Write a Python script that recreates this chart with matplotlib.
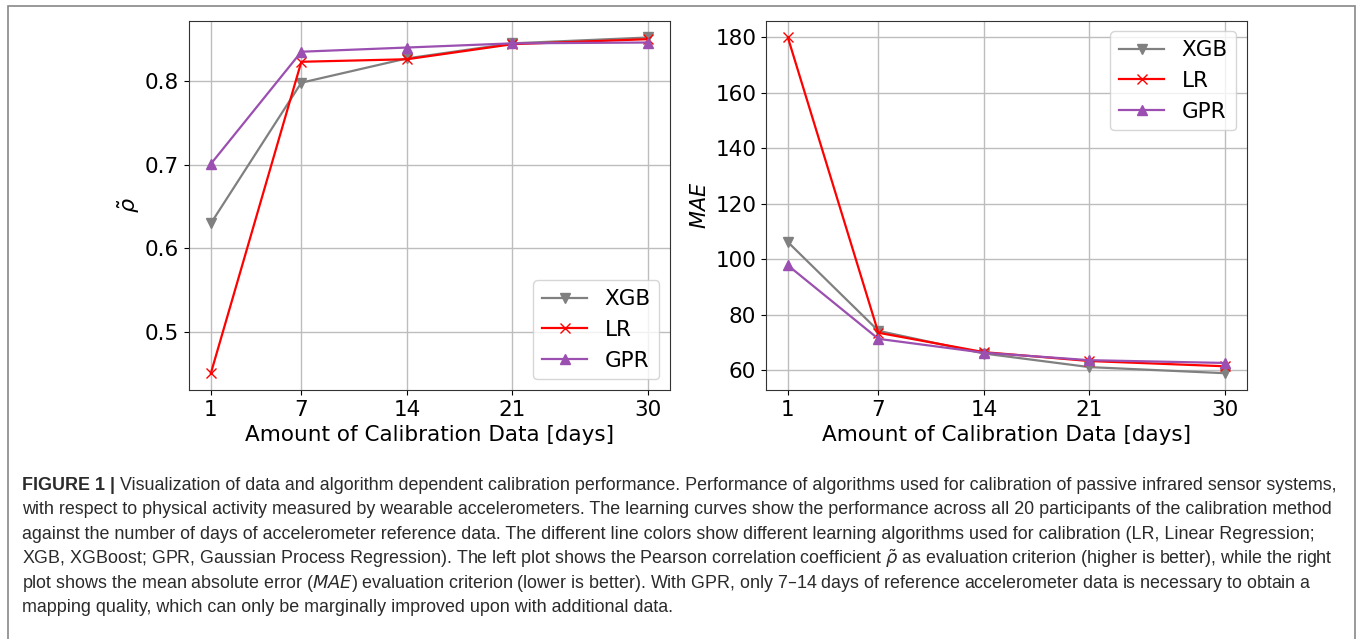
import matplotlib
matplotlib.use("Agg")
import matplotlib.pyplot as plt
from matplotlib.patches import Rectangle

days = [1, 7, 14, 21, 30]

rho_xgb = [0.630, 0.798, 0.827, 0.845, 0.852]
rho_lr = [0.451, 0.823, 0.826, 0.844, 0.850]
rho_gpr = [0.701, 0.835, 0.840, 0.845, 0.846]

mae_xgb = [106.2, 74.2, 66.0, 61.1, 58.9]
mae_lr = [180.0, 73.5, 66.5, 63.3, 61.4]
mae_gpr = [97.8, 71.3, 66.3, 63.6, 62.6]

rho_ticks = [0.5, 0.6, 0.7, 0.8]
mae_ticks = [60, 80, 100, 120, 140, 160, 180]

caption_head = "FIGURE 1 |"
caption_lines = [
    "Visualization of data and algorithm dependent calibration performance. Performance of algorithms used for calibration of passive infrared sensor systems,",
    "with respect to physical activity measured by wearable accelerometers. The learning curves show the performance across all 20 participants of the calibration method",
    "against the number of days of accelerometer reference data. The different line colors show different learning algorithms used for calibration (LR, Linear Regression;",
    r"XGB, XGBoost; GPR, Gaussian Process Regression). The left plot shows the Pearson correlation coefficient $\tilde{\rho}$ as evaluation criterion (higher is better), while the right",
    r"plot shows the mean absolute error ($\mathit{MAE}$) evaluation criterion (lower is better). With GPR, only 7–14 days of reference accelerometer data is necessary to obtain a",
    "mapping quality, which can only be marginally improved upon with additional data.",
]

W, H = 1358, 639
fig = plt.figure(figsize=(W / 100, H / 100), dpi=100)

# outer frame of the figure panel
fig.add_artist(Rectangle((8 / W, -0.05), (1355 - 8) / W, 1 - 6 / H + 0.05,
                         transform=fig.transFigure, fill=False,
                         edgecolor="#888888", lw=1.2))

ax1 = fig.add_axes([189 / W, 1 - 390 / H, (670 - 189) / W, (390 - 20.7) / H])
ax2 = fig.add_axes([766 / W, 1 - 390 / H, (1247 - 766) / W, (390 - 20.7) / H])

styles = dict(
    XGB=dict(color="grey", marker="v"),
    LR=dict(color="red", marker="x"),
    GPR=dict(color="#9b4fb0", marker="^"),
)

for ax, series in [(ax1, [rho_xgb, rho_lr, rho_gpr]), (ax2, [mae_xgb, mae_lr, mae_gpr])]:
    for name, vals in zip(["XGB", "LR", "GPR"], series):
        ax.plot(days, vals, label=name, lw=1.6, markersize=7, **styles[name])
    ax.grid(True, color="#bdbdbd", lw=1)
    ax.set_axisbelow(True)
    ax.set_xticks(days)
    ax.tick_params(labelsize=15.5)
    ax.set_xlabel("Amount of Calibration Data [days]", fontsize=15.5)
    for s in ax.spines.values():
        s.set_color("#333333")

ax1.set_yticks(rho_ticks)
ax2.set_yticks(mae_ticks)
ax1.set_ylabel(r"$\tilde{\rho}$", fontsize=16, labelpad=2)
ax2.set_ylabel(r"$MAE$", fontsize=15)
ax1.legend(loc="lower right", fontsize=15.5, handlelength=2.1)
ax2.legend(loc="upper right", fontsize=15.5, handlelength=2.1)

# caption
cap_font = ["Liberation Sans", "DejaVu Sans"]
cap_color = "#2b2b2b"
fig.canvas.draw()
renderer = fig.canvas.get_renderer()

fs = 12
head = fig.text(0, 0, caption_head, fontsize=fs, family=cap_font, fontweight="bold")
hw = head.get_window_extent(renderer).width
head.remove()
widest = 0
for i, line in enumerate(caption_lines):
    t = fig.text(0, 0, line, fontsize=fs, family=cap_font)
    w = t.get_window_extent(renderer).width + (hw + 5 if i == 0 else 0)
    widest = max(widest, w)
    t.remove()
fs = fs * (1340 - 22) / widest

x0 = 22 / W
head = fig.text(x0, 1 - 485 / H, caption_head, fontsize=fs, family=cap_font,
                fontweight="bold", color=cap_color, va="center")
hw = head.get_window_extent(renderer).width
for i, line in enumerate(caption_lines):
    x = x0 + (hw + 5) / W if i == 0 else x0
    fig.text(x, 1 - (485 + 24.6 * i) / H, line, fontsize=fs, family=cap_font,
             color=cap_color, va="center")

fig.savefig("out.png", dpi=100)
